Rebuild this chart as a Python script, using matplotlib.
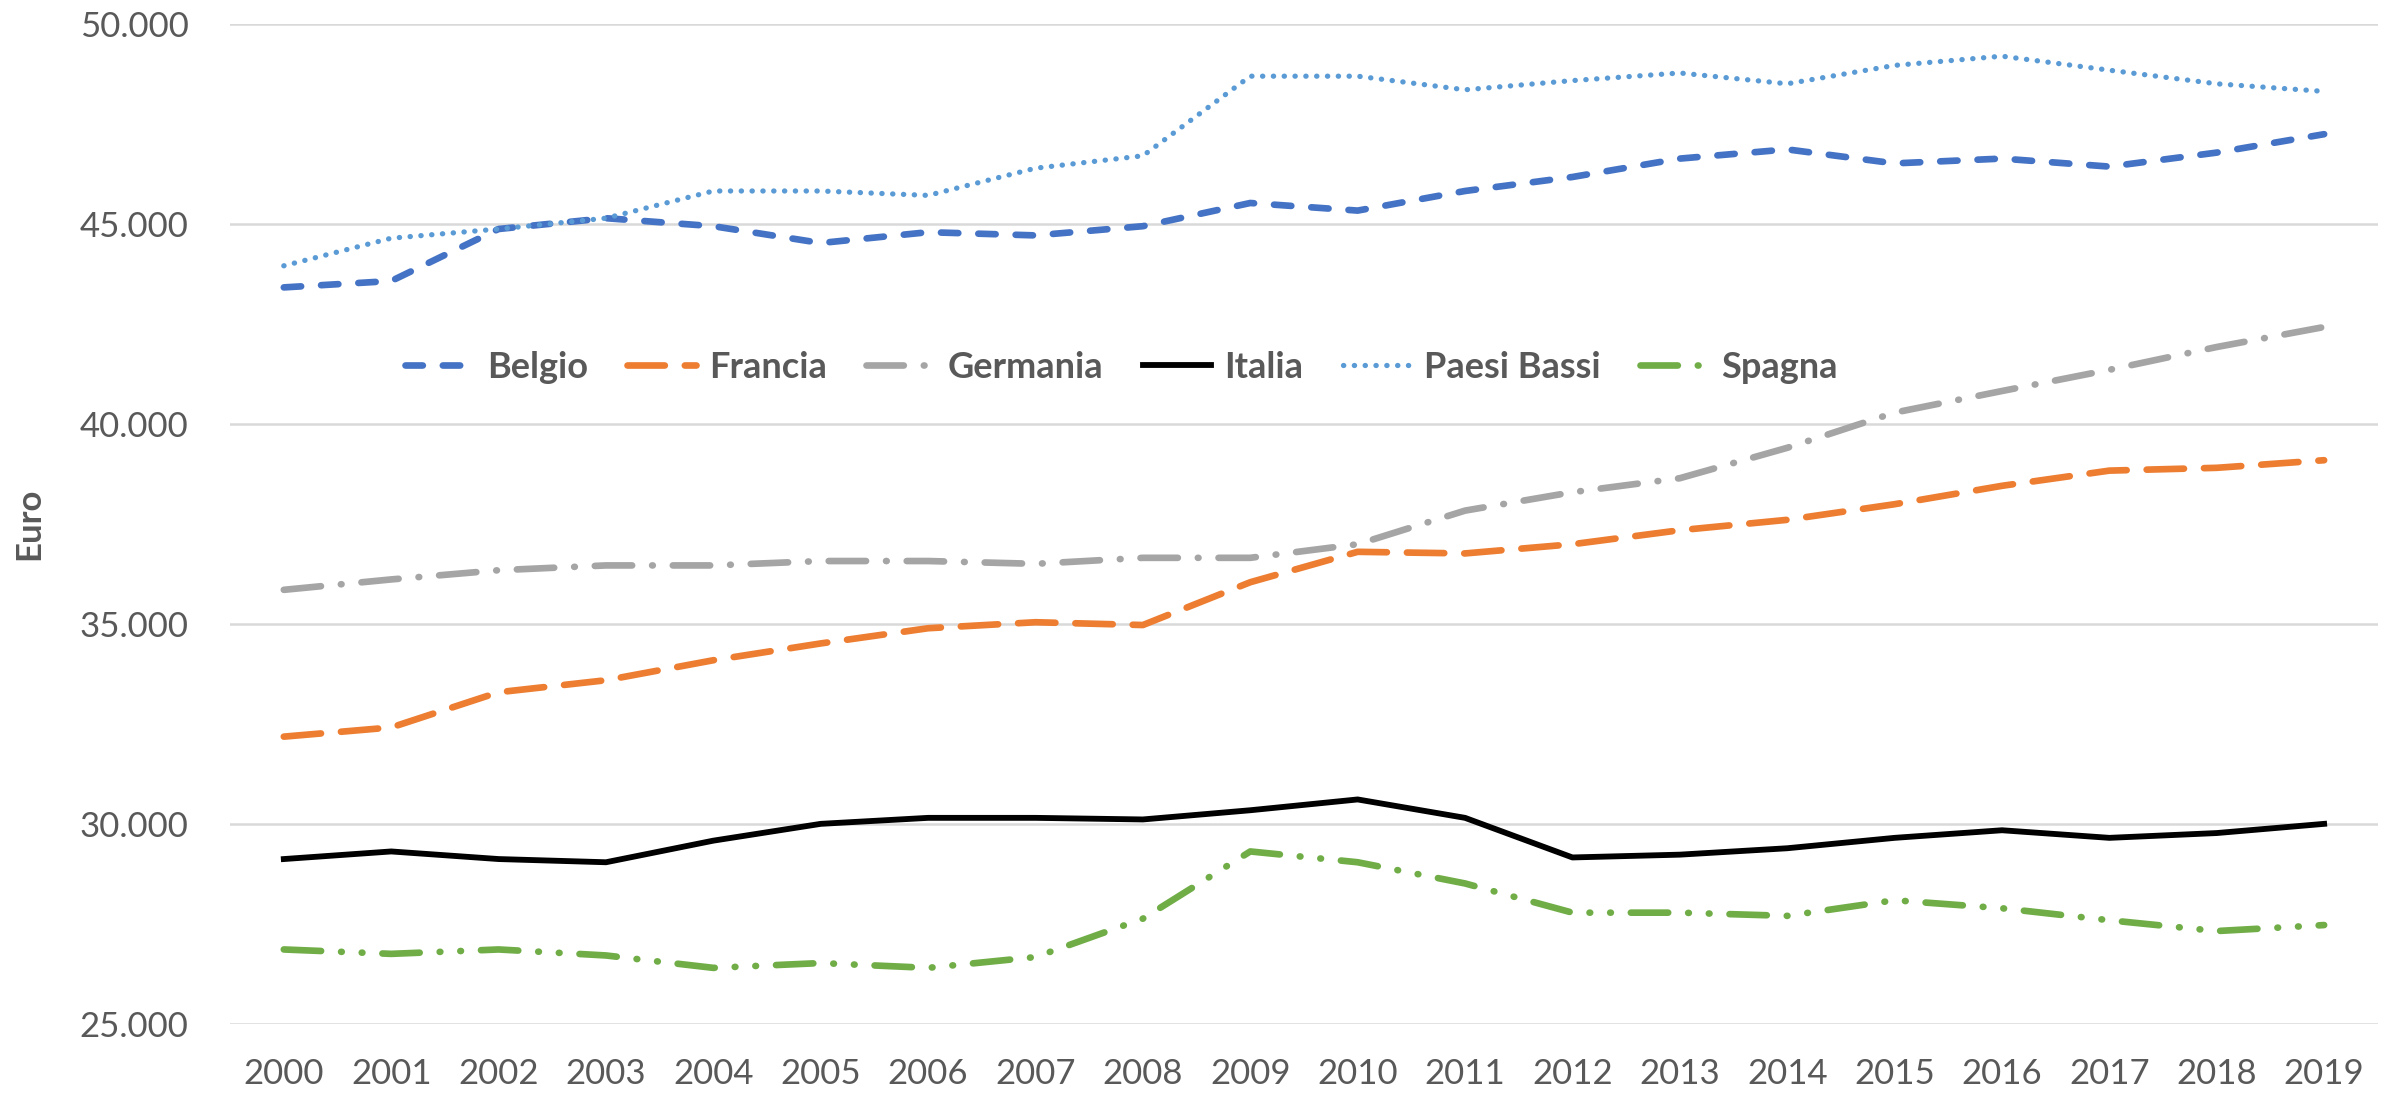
import matplotlib
matplotlib.use("Agg")
import matplotlib.pyplot as plt
from matplotlib.ticker import FuncFormatter

# --- Dati (euro) ---
anni = [str(a) for a in range(2000, 2020)]
belgio = [43420, 43580, 44880, 45150, 44950, 44530, 44800, 44720, 44950, 45530,
          45340, 45830, 46180, 46640, 46870, 46520, 46640, 46440, 46790, 47250]
francia = [32190, 32420, 33300, 33600, 34100, 34520, 34900, 35050, 34980, 36050,
           36810, 36770, 37000, 37350, 37610, 38000, 38460, 38840, 38910, 39100]
germania = [35860, 36120, 36350, 36470, 36470, 36580, 36580, 36510, 36660, 36660,
            37000, 37840, 38300, 38650, 39410, 40290, 40830, 41360, 41930, 42430]
italia = [29130, 29320, 29130, 29050, 29590, 30010, 30160, 30160, 30120, 30350,
          30620, 30160, 29170, 29240, 29400, 29660, 29850, 29660, 29780, 30010]
paesi_bassi = [43960, 44650, 44880, 45150, 45830, 45830, 45720, 46400, 46710, 48700,
               48700, 48360, 48590, 48780, 48510, 48970, 49200, 48850, 48510, 48320]
spagna = [26870, 26760, 26870, 26720, 26410, 26530, 26410, 26680, 27640, 29320,
          29050, 28520, 27790, 27790, 27710, 28100, 27900, 27600, 27330, 27480]
# -------------------

plt.rcParams['font.family'] = ['Lato', 'DejaVu Sans']
grigio_testo = "#595959"

fig = plt.figure(figsize=(23.97, 10.99), dpi=100)
ax = fig.add_axes([0.096, 0.068, 0.896, 0.910])

x = list(range(len(anni)))
lw = 4.8
ax.plot(x, belgio, color="#4472C4", lw=lw, dashes=(2.6, 3.0),
        dash_capstyle="round", label="Belgio")
ax.plot(x, francia, color="#ED7D31", lw=lw, dashes=(5.6, 3.0),
        dash_capstyle="round", label="Francia")
ax.plot(x, germania, color="#A5A5A5", lw=lw, dashes=(5.6, 3.0, 0.1, 3.0),
        dash_capstyle="round", label="Germania")
ax.plot(x, italia, color="black", lw=4.2, solid_joinstyle="round",
        label="Italia")
ax.plot(x, paesi_bassi, color="#5B9BD5", lw=3.8, dashes=(0.05, 2.0),
        dash_capstyle="round", label="Paesi Bassi")
ax.plot(x, spagna, color="#70AD47", lw=lw, dashes=(5.6, 3.0, 0.1, 3.0, 0.1, 3.0),
        dash_capstyle="round", label="Spagna")

# Assi e griglia
ax.set_xlim(-0.5, len(anni) - 0.5)
ax.set_ylim(25000, 50000)
ax.set_yticks(range(25000, 50001, 5000))
ax.yaxis.set_major_formatter(FuncFormatter(lambda v, p: f"{int(v):,}".replace(",", ".")))
ax.set_xticks(x)
ax.set_xticklabels(anni)
ax.grid(axis="y", color="#D9D9D9", lw=1.8)
ax.set_axisbelow(True)
for s in ax.spines.values():
    s.set_visible(False)
ax.tick_params(axis="both", length=0, labelsize=25, colors=grigio_testo)
ax.tick_params(axis="y", pad=30)
ax.tick_params(axis="x", pad=24)
ax.set_ylabel("Euro", fontsize=25, fontweight="bold", color=grigio_testo)
ax.yaxis.set_label_coords(-0.086, 0.5)

# Legenda
leg = fig.legend(loc="center", bbox_to_anchor=(0.468, 0.666), ncol=6, frameon=False,
                 fontsize=26, handlelength=1.9, columnspacing=1.1, handletextpad=0.35)
for t in leg.get_texts():
    t.set_color(grigio_testo)
    t.set_fontweight("bold")

plt.savefig("out.png", dpi=100)
